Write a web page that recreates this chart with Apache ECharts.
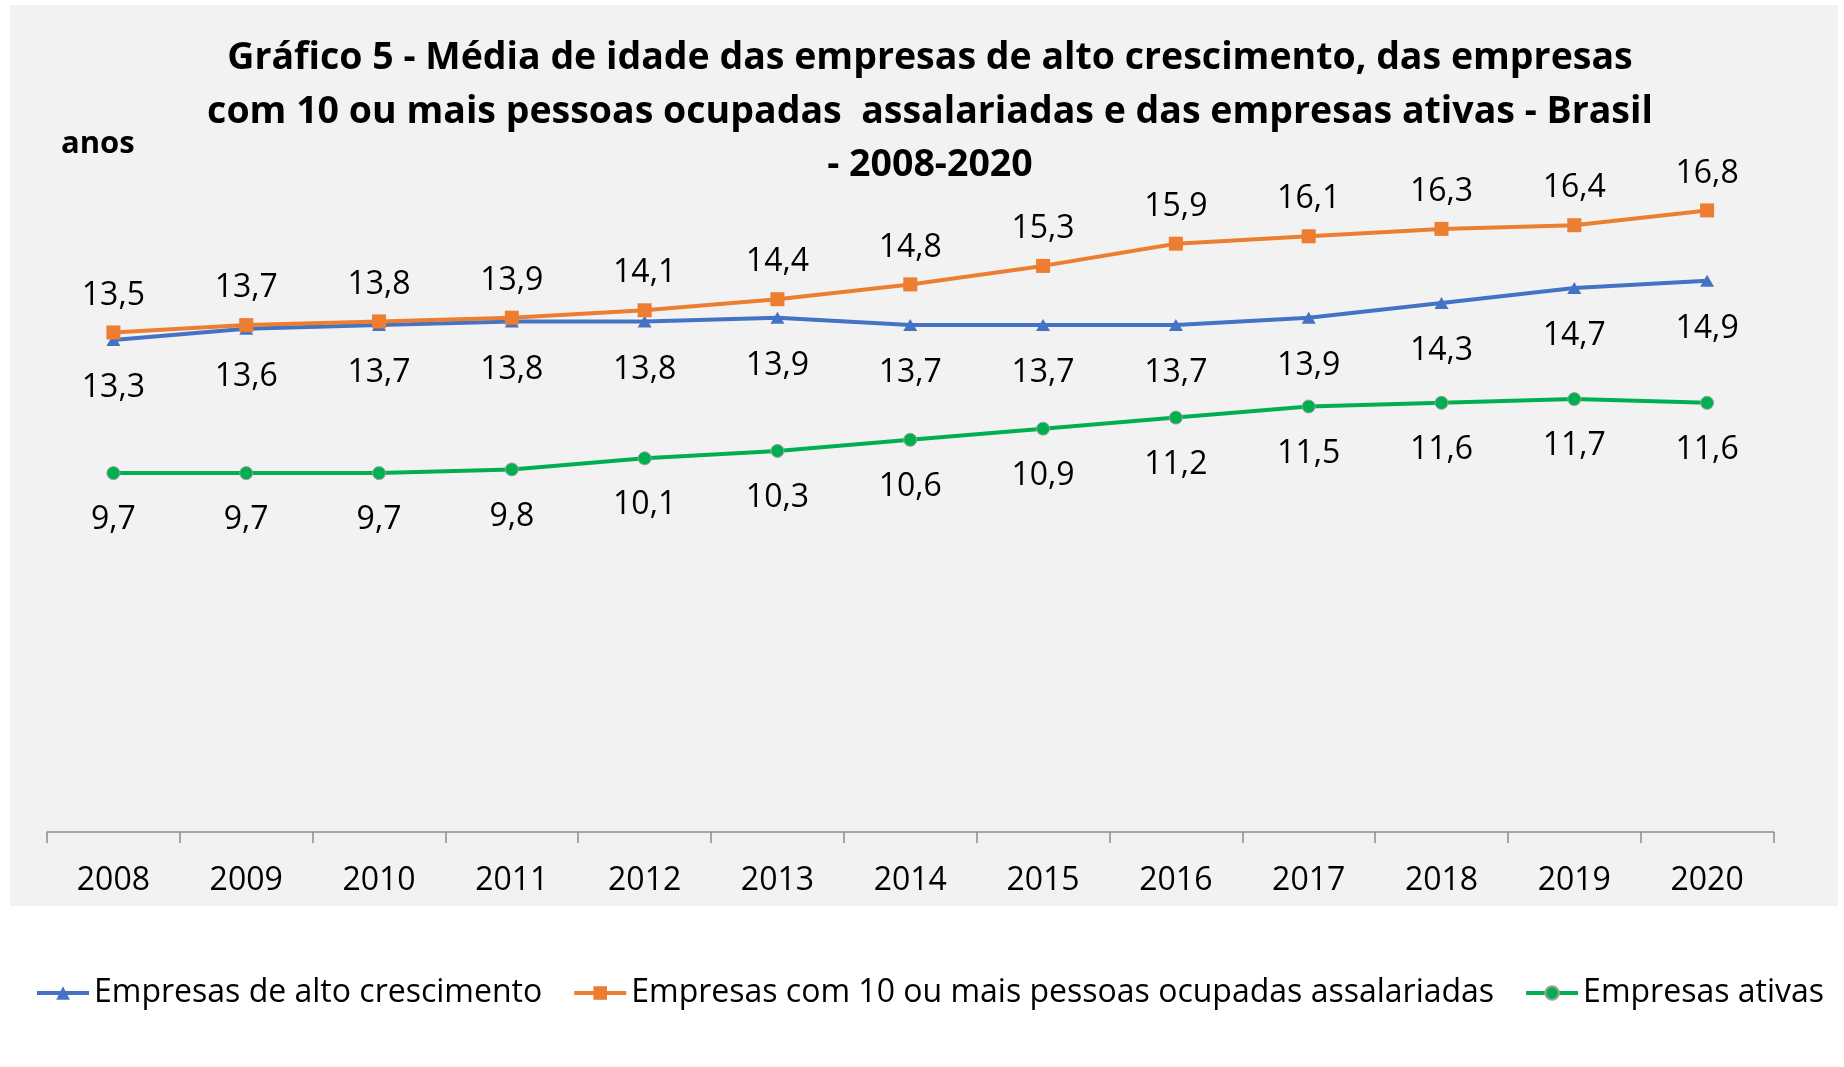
<!DOCTYPE html>
<html>
<head>
<meta charset="utf-8">
<script src="https://cdn.jsdelivr.net/npm/echarts@6/dist/echarts.min.js"></script>
<style>html,body{margin:0;background:#fff}#chart{width:1844px;height:1067px}</style>
</head>
<body>
<div id="chart"></div>
<script>
const years = ['2008', '2009', '2010', '2011', '2012', '2013', '2014', '2015', '2016', '2017', '2018', '2019', '2020'];
const altoCrescimento = [13.3, 13.6, 13.7, 13.8, 13.8, 13.9, 13.7, 13.7, 13.7, 13.9, 14.3, 14.7, 14.9];
const dezOuMais = [13.5, 13.7, 13.8, 13.9, 14.1, 14.4, 14.8, 15.3, 15.9, 16.1, 16.3, 16.4, 16.8];
const ativas = [9.7, 9.7, 9.7, 9.8, 10.1, 10.3, 10.6, 10.9, 11.2, 11.5, 11.6, 11.7, 11.6];

const FONT = "'Open Sans', sans-serif";
const fmt = p => String(p.value).replace('.', ',');

// uma série de linha com rótulos no estilo do Excel
const serie = (name, data, color, symbol, size, pos, dist, extra = {}) => ({
  name, type: 'line', data, symbol, symbolSize: size,
  lineStyle: { color, width: 4 },
  itemStyle: { color, ...extra },
  label: { show: true, position: pos, distance: dist, formatter: fmt, color: '#000', fontSize: 32, lineHeight: 32, fontFamily: FONT },
  emphasis: { disabled: true },
  animation: false
});

const chart = echarts.init(document.getElementById('chart'));
chart.setOption({
  backgroundColor: '#fff',
  color: ['#4472C4', '#ED7D31', '#00B050'],
  title: {
    text: 'Gráfico 5 - Média de idade das empresas de alto crescimento, das empresas\ncom 10 ou mais pessoas ocupadas  assalariadas e das empresas ativas - Brasil\n- 2008-2020',
    left: 925, top: 27, textAlign: 'center',
    textStyle: { fontFamily: FONT, fontWeight: 'bold', fontSize: 37.5, lineHeight: 53.5, color: '#000' }
  },
  graphic: [
    { type: 'rect', z: -10, shape: { x: 10, y: 5, width: 1828, height: 901 }, style: { fill: '#f2f2f2' }, silent: true },
    { type: 'text', x: 61, y: 144, style: { text: 'anos', fontFamily: FONT, fontWeight: 'bold', fontSize: 31, fill: '#000', verticalAlign: 'middle' } }
  ],
  legend: {
    left: 30, top: 972, width: 1840,
    itemWidth: 52, itemHeight: 17, itemGap: 30,
    lineStyle: { width: 4 },
    textStyle: { fontFamily: FONT, fontSize: 32, color: '#000' },
    data: ['Empresas de alto crescimento', 'Empresas com 10 ou mais pessoas ocupadas assalariadas', 'Empresas ativas']
  },
  grid: { left: 47, right: 70.5, top: 92, bottom: 235 },
  xAxis: {
    type: 'category', data: years, boundaryGap: true,
    axisLine: { lineStyle: { color: '#8c8c8c', width: 1.5 } },
    axisTick: { show: true, length: 11, lineStyle: { color: '#8c8c8c', width: 1.5 } },
    axisLabel: { color: '#000', fontFamily: FONT, fontSize: 32, margin: 33 }
  },
  yAxis: { type: 'value', min: 0, max: 20, show: false },
  series: [
    serie('Empresas de alto crescimento', altoCrescimento, '#4472C4', 'triangle', [14, 12], 'bottom', 26),
    serie('Empresas com 10 ou mais pessoas ocupadas assalariadas', dezOuMais, '#ED7D31', 'rect', 14, 'top', 14),
    serie('Empresas ativas', ativas, '#00B050', 'circle', 13, 'bottom', 24, { borderColor: '#a0a0a0', borderWidth: 1 })
  ]
});
</script>
</body>
</html>
